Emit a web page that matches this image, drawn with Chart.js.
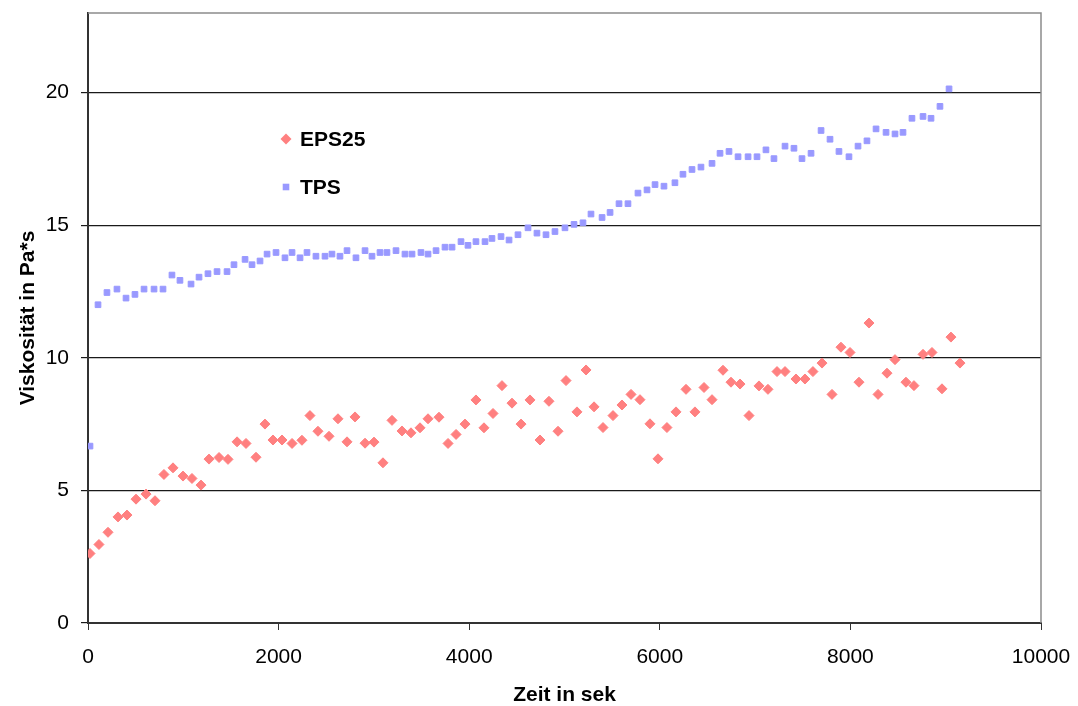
<!DOCTYPE html>
<html>
<head>
<meta charset="utf-8">
<script src="https://cdn.jsdelivr.net/npm/chart.js@4/dist/chart.umd.min.js"></script>
<style>
  html, body { margin: 0; padding: 0; background: #fff; }
  #viscosityChart { display: block; }
</style>
</head>
<body>
<canvas id="viscosityChart" width="1078" height="706"></canvas>
<script>
// measurement times in seconds and viscosities in Pa*s
const epsTime = [21, 115, 210, 315, 409, 504, 609, 703, 797, 892, 997, 1091, 1186, 1270, 1375, 1469, 1564, 1658, 1763, 1857,
  1941, 2036, 2141, 2245, 2329, 2413, 2529, 2623, 2718, 2802, 2907, 3001, 3095, 3190, 3295, 3389, 3484, 3568, 3683, 3778,
  3862, 3956, 4071, 4155, 4250, 4344, 4449, 4544, 4638, 4743, 4837, 4932, 5016, 5131, 5226, 5310, 5404, 5509, 5603, 5698,
  5792, 5897, 5981, 6075, 6170, 6275, 6369, 6464, 6548, 6663, 6747, 6842, 6936, 7041, 7135, 7230, 7314, 7429, 7523, 7607,
  7702, 7807, 7901, 7996, 8090, 8195, 8290, 8384, 8468, 8583, 8667, 8762, 8856, 8961, 9055, 9150]
const epsVisc = [2.62, 2.96, 3.42, 4.00, 4.07, 4.67, 4.86, 4.61, 5.60, 5.85, 5.54, 5.45, 5.20, 6.18, 6.24, 6.17, 6.83, 6.77, 6.25, 7.50,
  6.90, 6.90, 6.77, 6.89, 7.82, 7.23, 7.04, 7.70, 6.83, 7.77, 6.78, 6.82, 6.04, 7.64, 7.24, 7.17, 7.36, 7.70, 7.76, 6.77,
  7.11, 7.50, 8.41, 7.36, 7.90, 8.95, 8.29, 7.50, 8.41, 6.90, 8.36, 7.23, 9.14, 7.96, 9.54, 8.15, 7.37, 7.82, 8.22, 8.62,
  8.42, 7.51, 6.19, 7.37, 7.96, 8.81, 7.96, 8.88, 8.42, 9.53, 9.08, 9.01, 7.82, 8.94, 8.81, 9.48, 9.48, 9.20, 9.20, 9.48,
  9.80, 8.62, 10.40, 10.20, 9.08, 11.31, 8.62, 9.42, 9.93, 9.08, 8.95, 10.13, 10.20, 8.83, 10.78, 9.80]

const tpsTime = [21, 105, 199, 304, 399, 493, 588, 693, 787, 881, 965, 1081, 1165, 1259, 1354, 1459, 1532, 1648, 1721, 1805,
  1879, 1973, 2067, 2141, 2225, 2298, 2392, 2487, 2560, 2644, 2718, 2812, 2907, 2980, 3064, 3137, 3232, 3326, 3400, 3494,
  3568, 3652, 3746, 3820, 3914, 3987, 4071, 4166, 4239, 4334, 4418, 4512, 4617, 4711, 4806, 4900, 5005, 5100, 5194, 5278,
  5394, 5478, 5572, 5666, 5771, 5866, 5950, 6044, 6159, 6243, 6338, 6432, 6548, 6632, 6726, 6821, 6926, 7020, 7114, 7198,
  7314, 7408, 7492, 7587, 7692, 7786, 7880, 7985, 8080, 8174, 8269, 8374, 8468, 8552, 8646, 8762, 8846, 8940, 9035]
const tpsVisc = [6.67, 12.00, 12.46, 12.59, 12.25, 12.39, 12.59, 12.59, 12.59, 13.12, 12.92, 12.78, 13.04, 13.17, 13.25, 13.25, 13.51, 13.71, 13.51, 13.65,
  13.91, 13.97, 13.77, 13.97, 13.77, 13.97, 13.83, 13.83, 13.91, 13.83, 14.04, 13.77, 14.04, 13.83, 13.97, 13.97, 14.04, 13.91, 13.91, 13.97,
  13.91, 14.04, 14.17, 14.17, 14.38, 14.24, 14.38, 14.38, 14.50, 14.57, 14.44, 14.64, 14.90, 14.70, 14.64, 14.76, 14.90, 15.03, 15.09, 15.42,
  15.29, 15.48, 15.81, 15.81, 16.21, 16.33, 16.53, 16.47, 16.60, 16.92, 17.10, 17.19, 17.33, 17.71, 17.78, 17.58, 17.58, 17.58, 17.84, 17.51,
  17.98, 17.90, 17.51, 17.71, 18.57, 18.24, 17.78, 17.58, 17.98, 18.18, 18.63, 18.50, 18.44, 18.50, 19.03, 19.10, 19.03, 19.48, 20.14]

const seriesNames = ['EPS25', 'TPS']
const xTicks = [0, 2000, 4000, 6000, 8000, 10000]
const yTicks = [0, 5, 10, 15, 20]

const FONT = "'Liberation Sans', Arial, sans-serif"
const toPoints = (xs, ys) => xs.map((x, i) => ({ x: x, y: ys[i] }))

// gray frame around the plot area (axes are drawn by the scales)
const plotFrame = {
  id: 'plotFrame',
  beforeDatasetsDraw(chart) {
    const { ctx, chartArea: a } = chart
    ctx.save()
    ctx.strokeStyle = '#8c8c8c'
    ctx.lineWidth = 1.5
    ctx.beginPath()
    ctx.moveTo(a.left, a.top)
    ctx.lineTo(a.right, a.top)
    ctx.lineTo(a.right, a.bottom)
    ctx.stroke()
    ctx.restore()
  }
}

// legend sitting inside the plot area
const innerLegend = {
  id: 'innerLegend',
  afterDraw(chart) {
    const { ctx, chartArea: a } = chart
    const x0 = a.left + 198
    const rows = [a.top + 126, a.top + 174]
    ctx.save()
    chart.data.datasets.forEach((ds, i) => {
      const y = rows[i]
      ctx.fillStyle = ds.backgroundColor
      ctx.beginPath()
      if (ds.pointStyle === 'rectRot') {
        const r = 5.5
        ctx.moveTo(x0 - r, y)
        ctx.lineTo(x0, y - r)
        ctx.lineTo(x0 + r, y)
        ctx.lineTo(x0, y + r)
        ctx.closePath()
      } else {
        ctx.rect(x0 - 3.3, y - 3.3, 6.6, 6.6)
      }
      ctx.fill()
      ctx.fillStyle = '#000'
      ctx.font = 'bold 21px ' + FONT
      ctx.textBaseline = 'middle'
      ctx.fillText(ds.label, x0 + 14, y + 1)
    })
    ctx.restore()
  }
}

const ctx = document.getElementById('viscosityChart').getContext('2d')

new Chart(ctx, {
  type: 'scatter',
  data: {
    datasets: [
      {
        label: seriesNames[0],
        data: toPoints(epsTime, epsVisc),
        pointStyle: 'rectRot',
        pointRadius: 5,
        borderWidth: 1,
        backgroundColor: '#ff8080',
        borderColor: '#ff8080'
      },
      {
        label: seriesNames[1],
        data: toPoints(tpsTime, tpsVisc),
        pointStyle: 'rect',
        pointRadius: 4,
        borderWidth: 1,
        backgroundColor: '#9999ff',
        borderColor: '#9999ff'
      }
    ]
  },
  options: {
    responsive: false,
    animation: false,
    layout: {
      padding: { top: 13, right: 37, bottom: 0, left: 0 }
    },
    plugins: {
      legend: { display: false },
      tooltip: { enabled: false }
    },
    scales: {
      x: {
        type: 'linear',
        min: xTicks[0],
        max: xTicks[xTicks.length - 1],
        afterFit: scale => {
          scale.height = 83
          scale.paddingLeft = 0
          scale.paddingRight = 0
        },
        afterBuildTicks: scale => { scale.ticks = xTicks.map(v => ({ value: v })) },
        ticks: {
          color: '#000',
          padding: 15,
          font: { family: FONT, size: 21 },
          callback: v => String(v)
        },
        grid: {
          drawOnChartArea: false,
          drawTicks: true,
          tickLength: 7,
          color: '#333'
        },
        border: { color: '#333', width: 2 },
        title: {
          display: true,
          text: 'Zeit in sek',
          color: '#000',
          padding: { top: 0, bottom: 0 },
          font: { family: FONT, size: 21, weight: 'bold', lineHeight: 1 }
        }
      },
      y: {
        type: 'linear',
        min: 0,
        max: 23,
        afterFit: scale => {
          scale.width = 88
          scale.paddingTop = 0
          scale.paddingBottom = 0
        },
        afterBuildTicks: scale => { scale.ticks = yTicks.map(v => ({ value: v })) },
        ticks: {
          color: '#000',
          padding: 12,
          font: { family: FONT, size: 21 },
          callback: v => String(v)
        },
        grid: {
          drawTicks: true,
          tickLength: 7,
          color: '#1a1a1a',
          lineWidth: 1.2
        },
        border: { color: '#333', width: 2 },
        title: {
          display: true,
          text: 'Viskosität in Pa*s',
          color: '#000',
          padding: { top: 16, bottom: 0 },
          font: { family: FONT, size: 21, weight: 'bold' }
        }
      }
    }
  },
  plugins: [plotFrame, innerLegend]
})
</script>
</body>
</html>
